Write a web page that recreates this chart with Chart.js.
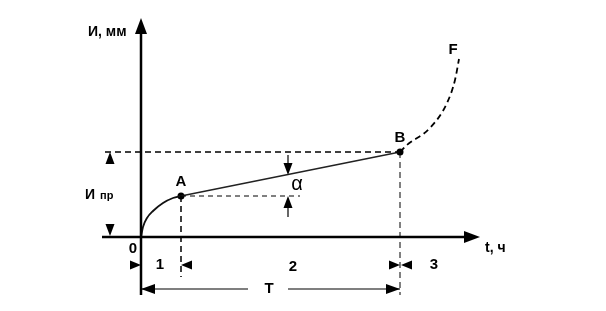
<!DOCTYPE html>
<html><head><meta charset="utf-8">
<script src="https://cdn.jsdelivr.net/npm/chart.js@4/dist/chart.umd.min.js"></script>
<style>html,body{margin:0;padding:0;background:#fff;}canvas{display:block;}</style>
</head><body>
<canvas id="c" width="606" height="311"></canvas>
<script>
// Schematic wear curve: t (time) vs И (wear), arbitrary units
const runInT   = [0, 0.2, 0.6, 1.2, 2.2, 3.2, 4.0];
const runInW   = [0, 1.0, 1.9, 2.6, 3.4, 3.9, 4.1];
const steadyT  = [4.0, 25.9];
const steadyW  = [4.1, 8.5];
const failT    = [25.9, 26.6, 28.9, 30.6, 31.4, 31.8];
const failW    = [8.5, 9.2, 10.9, 13.4, 15.7, 17.8];
const pointLabels = ['A', 'B', 'F'];
const pointT   = [4.0, 25.9, 31.8];
const pointW   = [4.1, 8.5, 17.8];
const zoneLabels = ['1', '2', '3'];
const axisLabels = ['И, мм', 't, ч', '0', 'T', 'α'];

const toXY = (xs, ys) => xs.map((x, i) => ({x, y: ys[i]}));
const FONT = '"Liberation Sans", Arial, sans-serif';

const decor = {
  id: 'decor',
  afterDatasetsDraw(chart) {
    const c = chart.ctx, xs = chart.scales.x, ys = chart.scales.y;
    const X = v => xs.getPixelForValue(v), Y = v => ys.getPixelForValue(v);
    const x0 = X(0), y0 = Y(0);
    const xA = X(pointT[0]), yA = Y(pointW[0]);
    const xB = X(pointT[1]), yB = Y(pointW[1]);
    const xF = X(pointT[2]), yF = Y(pointW[2]);
    c.save();
    c.strokeStyle = '#000'; c.fillStyle = '#000';
    const line = (a, b, cc, d, w, dash) => {
      c.beginPath(); c.lineWidth = w; c.setLineDash(dash || []);
      c.moveTo(a, b); c.lineTo(cc, d); c.stroke(); c.setLineDash([]);
    };
    const tri = (tx, ty, dir, len, half) => {
      c.beginPath(); c.moveTo(tx, ty);
      if (dir === 'up')    { c.lineTo(tx - half, ty + len); c.lineTo(tx + half, ty + len); }
      if (dir === 'down')  { c.lineTo(tx - half, ty - len); c.lineTo(tx + half, ty - len); }
      if (dir === 'right') { c.lineTo(tx - len, ty - half); c.lineTo(tx - len, ty + half); }
      if (dir === 'left')  { c.lineTo(tx + len, ty - half); c.lineTo(tx + len, ty + half); }
      c.closePath(); c.fill();
    };
    // axes
    line(x0, Y(-5.8), x0, Y(20.4), 2.5);
    tri(x0, Y(21.9), 'up', 16, 6);
    line(X(-3.9), y0, X(32.5), y0, 2.5);
    tri(X(33.9), y0, 'right', 16, 6);
    // dashed helpers
    line(X(-3.6), yB, xB, yB, 1.3, [6, 4]);
    line(xA, yA, X(15.9), yA, 1, [5, 4]);
    line(xA, yA, xA, Y(-4.0), 1.5, [6, 4]);
    line(xB, yB, xB, Y(-5.8), 1, [6, 4]);
    // И пр dimension
    const xd = X(-3.1);
    tri(xd, yB, 'up', 12, 4.5);
    tri(xd, y0 - 1, 'down', 12, 4.5);
    // alpha arrows
    const xa = X(14.7);
    line(xa, Y(8.2), xa, Y(7.0), 1.2);
    tri(xa, Y(6.2), 'down', 12, 4.5);
    line(xa, Y(3.0), xa, Y(2.0), 1.2);
    tri(xa, yA, 'up', 12, 4.5);
    // zone arrows
    const yz = Y(-2.8);
    tri(x0, yz, 'right', 11, 4.5);
    tri(xA, yz, 'left', 11, 4.5);
    tri(xB, yz, 'right', 11, 4.5);
    tri(xB + 1, yz, 'left', 11, 4.5);
    // T dimension
    const yt = Y(-5.2);
    line(x0, yt, X(10.7), yt, 1.2);
    line(X(14.7), yt, xB, yt, 1.2);
    tri(x0, yt, 'left', 14, 5);
    tri(xB, yt, 'right', 14, 5);
    // texts
    c.textBaseline = 'middle'; c.textAlign = 'center';
    c.font = '600 15px ' + FONT;
    c.fillText(pointLabels[0], xA, yA - 14);
    c.fillText(pointLabels[1], xB, yB - 14);
    c.fillText(pointLabels[2], xF - 6, yF - 9);
    c.fillText(zoneLabels[0], X(1.9), yz);
    c.fillText(zoneLabels[1], X(15.2), yz + 2);
    c.fillText(zoneLabels[2], X(29.3), yz);
    c.fillText(axisLabels[2], X(-0.8), Y(-1.2));
    c.fillText(axisLabels[3], X(12.8), yt);
    c.textAlign = 'left';
    c.font = 'bold 14px ' + FONT;
    c.fillText(axisLabels[0], X(-5.3), Y(20.5));
    c.fillText(axisLabels[1], X(34.4), Y(-1.1));
    c.fillText('И', X(-5.6), Y(4.2));
    c.font = 'bold 11px ' + FONT;
    c.fillText('пр', X(-4.1), Y(4.1));
    c.font = '20px ' + FONT; c.textAlign = 'center';
    c.fillText(axisLabels[4], X(15.6), Y(5.3));
    c.restore();
  }
};

new Chart(document.getElementById('c'), {
  type: 'scatter',
  data: {
    datasets: [
      { data: toXY(runInT, runInW), showLine: true, borderColor: '#111', borderWidth: 1.8, pointRadius: 0, tension: 0.4, cubicInterpolationMode: 'monotone' },
      { data: toXY(steadyT, steadyW), showLine: true, borderColor: '#222', borderWidth: 1.4, pointRadius: 0 },
      { data: toXY(failT, failW), showLine: true, borderColor: '#000', borderWidth: 1.8, borderDash: [6, 4], pointRadius: 0, tension: 0.4, cubicInterpolationMode: 'monotone' },
      { data: toXY(pointT.slice(0, 2), pointW.slice(0, 2)), showLine: false, pointRadius: 3.5, pointBackgroundColor: '#000', pointBorderWidth: 0 }
    ]
  },
  options: {
    responsive: false, animation: false,
    layout: { padding: 0, autoPadding: false },
    plugins: { legend: { display: false }, tooltip: { enabled: false } },
    scales: {
      x: { type: 'linear', display: false, min: -14.1, max: 46.5 },
      y: { type: 'linear', display: false, min: -7.4, max: 23.7 }
    }
  },
  plugins: [decor]
});
</script>
</body></html>
